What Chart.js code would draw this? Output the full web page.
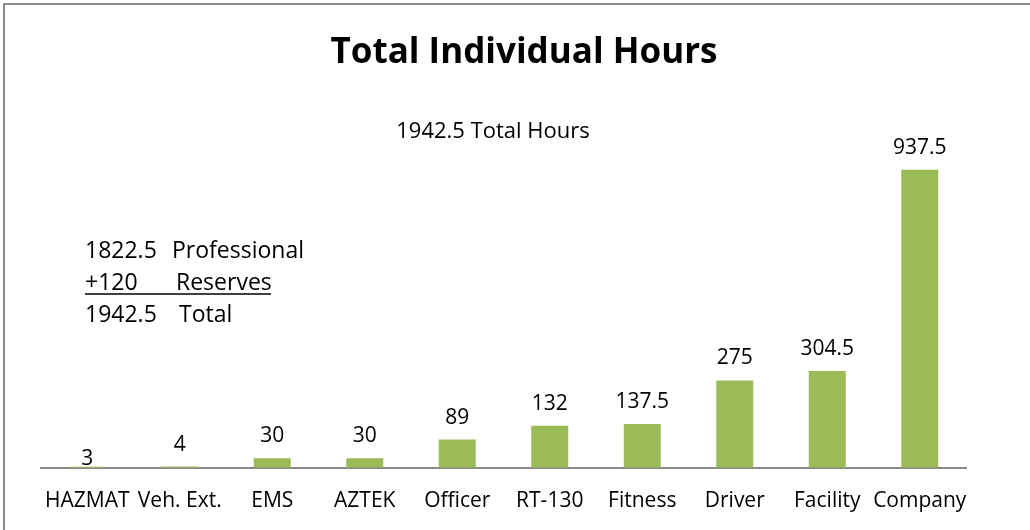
<!DOCTYPE html>
<html>
<head>
<meta charset="utf-8">
<script src="https://cdn.jsdelivr.net/npm/chart.js@4"></script>
<style>
  html, body { margin: 0; padding: 0; background: #fff; overflow: hidden; }
  #wrap { width: 1030px; height: 530px; position: relative; overflow: hidden; }
</style>
</head>
<body>
<div id="wrap"><canvas id="chart" width="1030" height="535"></canvas></div>
<script>
const categories = ["HAZMAT", "Veh. Ext.", "EMS", "AZTEK", "Officer", "RT-130", "Fitness", "Driver", "Facility", "Company"];
const hours = [3, 4, 30, 30, 89, 132, 137.5, 275, 304.5, 937.5];
const titleText = "Total Individual Hours";
const subtitleText = "1942.5 Total Hours";
const breakdownLines = [
  ["1822.5", "Professional"],
  ["+120", "Reserves"],
  ["1942.5", "Total"]
];

const FONT = "'Open Sans', sans-serif";
const barGreen = "#9bbb59";

// frame, title, notes and value labels
const textPlugin = {
  id: "textPlugin",
  afterDraw(chart) {
    const ctx = chart.ctx;
    ctx.save();

    // outer frame
    ctx.strokeStyle = "#8c8c8c";
    ctx.lineWidth = 2;
    ctx.strokeRect(4, 4, 1100, 600);

    ctx.fillStyle = "#000";
    ctx.textAlign = "center";
    ctx.textBaseline = "middle";
    ctx.font = "bold 35px " + FONT;
    ctx.fillText(titleText, 524, 53);

    ctx.font = "22px " + FONT;
    ctx.fillText(subtitleText, 493, 132);

    // breakdown note
    ctx.textAlign = "left";
    ctx.font = "23px " + FONT;
    const rows = [251, 283, 315];
    const wordX = [172, 176, 179];
    breakdownLines.forEach((row, i) => {
      ctx.fillText(row[0], 85, rows[i]);
      ctx.fillText(row[1], wordX[i], rows[i]);
    });
    ctx.strokeStyle = "#000";
    ctx.lineWidth = 1.5;
    ctx.beginPath();
    ctx.moveTo(85, 294);
    ctx.lineTo(271, 294);
    ctx.stroke();

    // value labels above bars
    const meta = chart.getDatasetMeta(0);
    ctx.textAlign = "center";
    ctx.font = "21px " + FONT;
    meta.data.forEach((bar, i) => {
      const lift = i === 0 ? 8 : 22;
      ctx.fillText(String(hours[i]), bar.x, bar.y - lift);
    });
    ctx.restore();
  }
};

new Chart(document.getElementById("chart"), {
  type: "bar",
  data: {
    labels: categories,
    datasets: [{
      data: hours,
      backgroundColor: barGreen,
      borderWidth: 0,
      barPercentage: 0.4,
      categoryPercentage: 1.0
    }]
  },
  options: {
    responsive: false,
    animation: false,
    layout: { padding: { left: 41, right: 64, top: 150, bottom: 0 } },
    plugins: {
      legend: { display: false },
      tooltip: { enabled: false }
    },
    scales: {
      x: {
        grid: { display: false, drawTicks: false },
        border: { color: "#898989", width: 2 },
        ticks: {
          color: "#000",
          font: { family: FONT, size: 21 },
          padding: 21,
          maxRotation: 0,
          minRotation: 0,
          autoSkip: false
        }
      },
      y: {
        display: false,
        min: 0,
        max: 1000
      }
    }
  },
  plugins: [textPlugin]
});
</script>
</body>
</html>
